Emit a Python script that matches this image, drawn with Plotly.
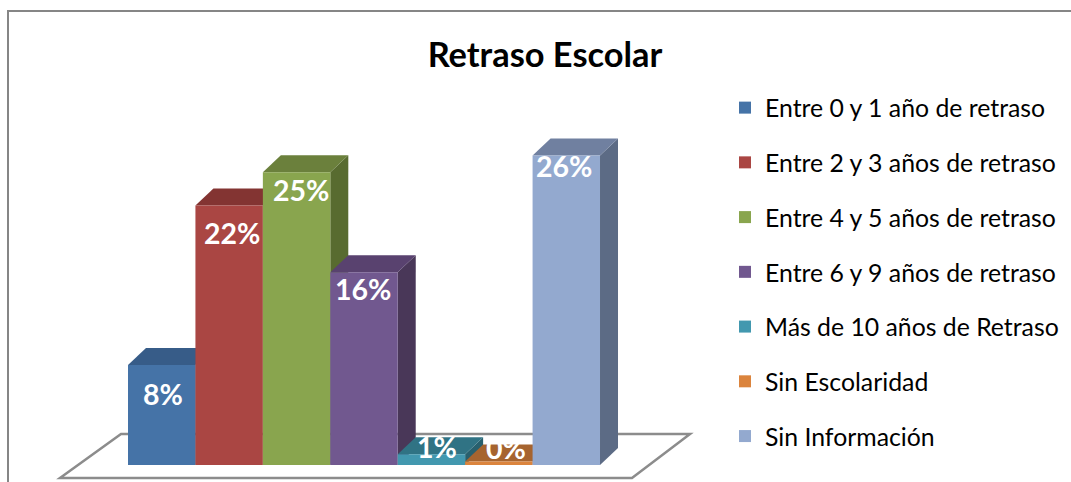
import plotly.graph_objects as go

title = "Retraso Escolar"
categories = ["Entre 0 y 1 año de retraso", "Entre 2 y 3 años de retraso", "Entre 4 y 5 años de retraso",
              "Entre 6 y 9 años de retraso", "Más de 10 años de Retraso", "Sin Escolaridad", "Sin Información"]
values = [8.4, 21.8, 24.6, 16.2, 0.9, 0.3, 26.0]
labels = ["8%", "22%", "25%", "16%", "1%", "0%", "26%"]

front_colors = ["#4573a7", "#aa4643", "#89a54e", "#71588f", "#4298af", "#db843d", "#93a9cf"]
top_colors = ["#375c88", "#833432", "#6b803c", "#59426f", "#307384", "#a6642f", "#7080a0"]
side_colors = ["#2f4e73", "#6e2c2a", "#586b30", "#493758", "#28606e", "#8a5327", "#5c6b85"]
label_dx = [1, 3, 4, -1, 6, 7, -2]
label_dy = [-29, -27, -18, -17, 7, 13, -10]

W, H = 1071, 482
BAR_PX, PX_PER_UNIT = 67.43, 11.9
LEFT_PX, BASE_PX = 128.0, 465.0
DX, DY = 18 / BAR_PX, 17 / PX_PER_UNIT
x_range = [-(LEFT_PX + BAR_PX / 2) / BAR_PX, (W - LEFT_PX - BAR_PX / 2) / BAR_PX]
y_range = [-(H - BASE_PX) / PX_PER_UNIT, BASE_PX / PX_PER_UNIT]


def paper_path(points):
    return "M" + " L".join(f"{x / W:.5f},{1 - y / H:.5f}" for x, y in points) + " Z"


shapes = [
    dict(type="path", xref="paper", yref="paper", layer="below",
         path=paper_path([(60, 478), (632, 478), (690, 434), (121, 434)]),
         line=dict(color="#8c8c8c", width=2.5), fillcolor="white"),
    dict(type="line", xref="paper", yref="paper", x0=8 / W, x1=1, y0=1 - 11 / H, y1=1 - 11 / H,
         line=dict(color="#868686", width=2)),
    dict(type="line", xref="paper", yref="paper", x0=8 / W, x1=8 / W, y0=0, y1=1 - 10 / H,
         line=dict(color="#868686", width=2)),
]

fig = go.Figure()
for i, (name, v) in enumerate(zip(categories, values)):
    l, r = i - 0.5, i + 0.5
    shapes.append(dict(type="path", layer="below", xref="x", yref="y", line_width=0,
                       fillcolor=side_colors[i],
                       path=f"M{r},0 L{r + DX},{DY} L{r + DX},{v + DY} L{r},{v} Z"))
    shapes.append(dict(type="path", layer="below", xref="x", yref="y", line_width=0,
                       fillcolor=top_colors[i],
                       path=f"M{l},{v} L{l + DX},{v + DY} L{r + DX},{v + DY} L{r},{v} Z"))
    fig.add_trace(go.Bar(x=[i], y=[v], name=name, width=1, legendgroup=name,
                         marker=dict(color=front_colors[i], line_width=0),
                         hoverinfo="skip"))

annotations = [
    dict(x=i, y=v, text=f"<b>{t}</b>", showarrow=False, xshift=dx, yshift=dy,
         font=dict(family="Lato", size=28.5, color="white"))
    for i, (v, t, dx, dy) in enumerate(zip(values, labels, label_dx, label_dy))
]

fig.update_layout(
    width=W, height=H, margin=dict(l=0, r=0, t=0, b=0),
    paper_bgcolor="white", plot_bgcolor="rgba(0,0,0,0)",
    barmode="overlay", showlegend=True, shapes=shapes, annotations=annotations,
    title=dict(text=f"<b>{title}</b>", x=545 / W, xanchor="center", y=1 - 55 / H, yanchor="middle",
               font=dict(family="Lato", size=34.4, color="black")),
    xaxis=dict(range=x_range, visible=False),
    yaxis=dict(range=y_range, visible=False),
    legend=dict(x=725 / W, xanchor="left", y=1 - 85 / H, yanchor="top", tracegroupgap=19.5,
                font=dict(family="Lato", size=24.8, color="black"), bgcolor="rgba(0,0,0,0)"),
)
fig.write_html("out.html", config=dict(displayModeBar=False),
               post_script="document.body.style.margin='0';")
